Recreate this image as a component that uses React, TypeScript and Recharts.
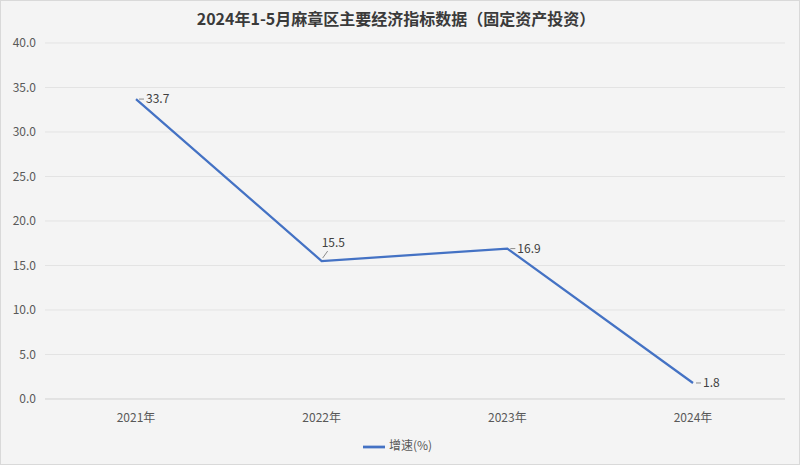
import React from "react";
import { LineChart, Line, XAxis, YAxis, CartesianGrid, Legend } from "recharts";

const years = ["2021年", "2022年", "2023年", "2024年"];
const growth = [33.7, 15.5, 16.9, 1.8];
const yTicks = [0, 5, 10, 15, 20, 25, 30, 35, 40];

const data = years.map((y, i) => ({ year: y, "增速(%)": growth[i] }));

const FONT = "'Noto Sans CJK SC', 'Noto Sans', sans-serif";

const renderLabel = (props: any) => {
    const { x, y, value, index } = props;
    if (index === 1) {
        return (
            <g>
                <line x1={x + 1} y1={y - 3} x2={x + 6} y2={y - 10} stroke="#8c8c8c" strokeWidth={1} />
                <text x={x} y={y - 14} fill="#404040" fontSize={12} fontFamily={FONT}>{value.toFixed(1)}</text>
            </g>
        );
    }
    return (
        <g>
            <line x1={x + 3} y1={y} x2={x + 8} y2={y} stroke="#8c8c8c" strokeWidth={1} />
            <text x={x + 10} y={y + 4} fill="#404040" fontSize={12} fontFamily={FONT}>{value.toFixed(1)}</text>
        </g>
    );
};

export default function App() {
    return (
        <div style={{ position: "absolute", left: 0, top: 0, width: 800, height: 465, background: "#f4f4f4", boxSizing: "border-box", border: "1px solid #d9d9d9", fontFamily: FONT }}>
            <div style={{ position: "absolute", left: 0, top: 5, width: 790, textAlign: "center", fontSize: 16, fontWeight: "bold", color: "#3a3a3a" }}>
                2024年1-5月麻章区主要经济指标数据（固定资产投资）
            </div>
            <div style={{ position: "absolute", left: -1, top: -1 }}>
                <LineChart width={800} height={465} data={data} margin={{ top: 43, right: 15, left: 0, bottom: 4 }}>
                    <CartesianGrid vertical={false} stroke="#e3e3e3" />
                    <XAxis
                        dataKey="year"
                        height={30}
                        padding={{ left: 91, right: 92 }}
                        tickLine={false}
                        axisLine={{ stroke: "#d9d9d9" }}
                        tick={{ fill: "#595959", fontSize: 12, fontFamily: FONT }}
                        tickMargin={8}
                    />
                    <YAxis
                        width={45}
                        domain={[0, 40]}
                        ticks={yTicks}
                        tickFormatter={(v) => v.toFixed(1)}
                        axisLine={false}
                        tickLine={false}
                        tickSize={0}
                        tickMargin={9}
                        tick={{ fill: "#595959", fontSize: 12, fontFamily: FONT }}
                    />
                    <Legend
                        verticalAlign="bottom"
                        height={32}
                        iconType="plainline"
                        iconSize={22}
                        wrapperStyle={{ fontSize: 12, fontFamily: FONT, color: "#595959", bottom: -3, left: 10 }}
                        formatter={(v) => <span style={{ color: "#595959" }}>{v}</span>}
                    />
                    <Line
                        type="linear"
                        dataKey="增速(%)"
                        stroke="#4472c4"
                        strokeWidth={2.25}
                        dot={false}
                        activeDot={false}
                        label={renderLabel}
                        isAnimationActive={false}
                    />
                </LineChart>
            </div>
        </div>
    );
}
